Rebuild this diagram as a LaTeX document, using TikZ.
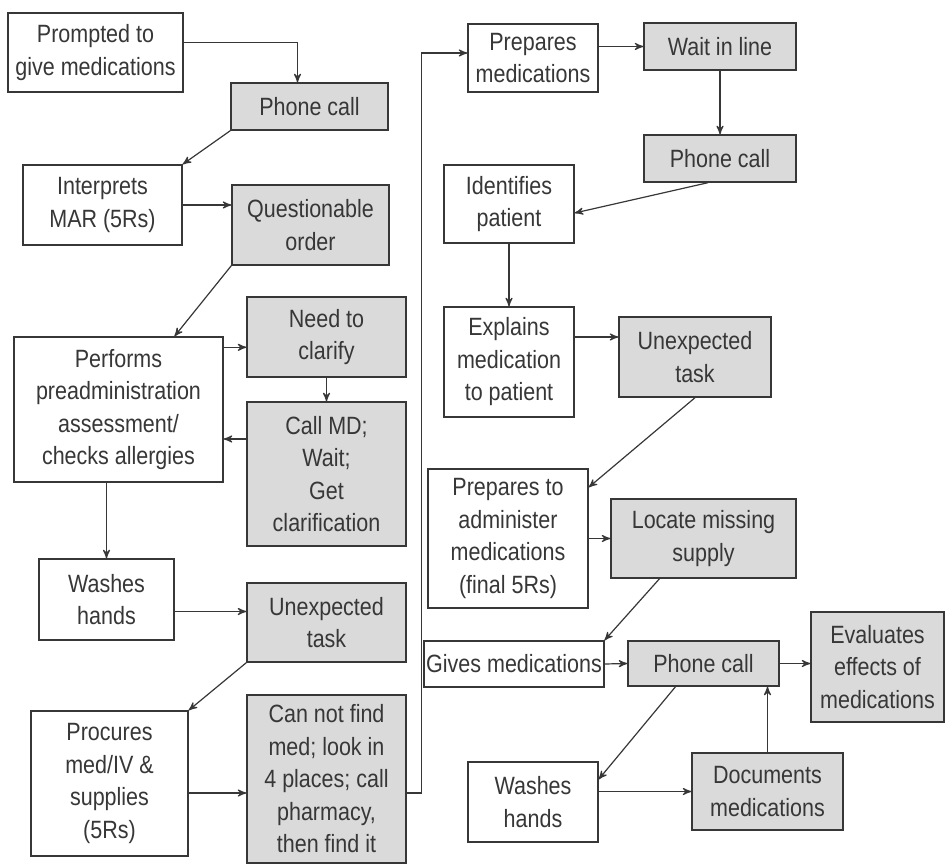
\documentclass[tikz,border=0pt]{standalone}
\usepackage{fontspec}
\setmainfont{Liberation Sans}[FakeStretch=0.86]
\usetikzlibrary{arrows,shapes}

\definecolor{boxgray}{RGB}{218,218,218}
\definecolor{inkgray}{RGB}{55,55,55}

\tikzset{
  stepbase/.style={draw=inkgray,line width=0.7pt,text=inkgray,align=center,
    inner xsep=1pt,inner ysep=1pt,
    font=\fontsize{12.5pt}{16.25pt}\selectfont},
  act/.style={stepbase,fill=white},
  hold/.style={stepbase,fill=boxgray},
  sz/.style 2 args={minimum width=#1*0.5pt,minimum height=#2*0.5pt}
}

\begin{document}
\begin{tikzpicture}[x=0.5pt,y=-0.5pt,->,>=stealth',semithick,draw=inkgray]
            \useasboundingbox (0,0) rectangle (946,865);
            % left column
            \node[act,sz={175}{79}](Prompt)at(95.5,52.5){Prompted to\\give medications};
            \node[hold,sz={157}{47}](CallA)at(309.5,106.5){Phone call};
            \node[act,sz={159}{80}](Interp)at(102.5,205){Interprets\\MAR (5Rs)};
            \node[hold,sz={157}{80}](Quest)at(310.5,225){Questionable\\order};
            \node[act,sz={209}{145}](Assess)at(118.5,409.5){Performs\\preadministration\\assessment/\\checks allergies};
            \node[hold,sz={159}{80}](Clarify)at(326.5,337){Need to\\clarify};
            \node[hold,sz={159}{144}](CallMD)at(326.5,474){Call MD;\\Wait;\\Get\\clarification};
            \node[act,sz={135}{81}](WashA)at(106.5,599.5){Washes\\hands};
            \node[hold,sz={159}{79}](TaskA)at(326.5,622.5){Unexpected\\task};
            \node[act,sz={157}{145}](Procure)at(109.5,783.5){Procures\\med/IV \&\\supplies\\(5Rs)};
            \node[hold,sz={159}{168}](NotFind)at(326.5,779){Can not find\\med; look in\\4 places; call\\pharmacy,\\then find it};
            % right column
            \node[act,sz={130}{68}](PrepMed)at(533,58){Prepares\\medications};
            \node[hold,sz={152}{47}](Wait)at(720,46.5){Wait in line};
            \node[hold,sz={152}{47}](CallB)at(720,158.5){Phone call};
            \node[act,sz={130}{78}](Ident)at(509,204){Identifies\\patient};
            \node[act,sz={130}{110}](Explain)at(509,362){Explains\\medication\\to patient};
            \node[hold,sz={152}{80}](TaskB)at(695,357){Unexpected\\task};
            \node[act,sz={160}{139}](PrepAdm)at(508,538.5){Prepares to\\administer\\medications\\(final 5Rs)};
            \node[hold,sz={185}{79}](Locate)at(703.5,538.5){Locate missing\\supply};
            \node[act,sz={176}{46}](Gives)at(514,664){Gives medications};
            \node[hold,sz={151}{45}](CallC)at(703.5,663.5){Phone call};
            \node[hold,sz={133}{110}](Eval)at(877.5,667){Evaluates\\effects of\\medications};
            \node[act,sz={130}{80}](WashB)at(533,802){Washes\\hands};
            \node[hold,sz={151}{77}](Docs)at(767.5,791.5){Documents\\medications};
            % connectors
            \draw ([yshift=5pt]Prompt.east) -| ([xshift=-6pt]CallA.north);
            \path (CallA.south west) edge (Interp.north east)
            (Quest.south west) edge ([xshift=28pt]Assess.north)
            (Clarify.south) edge (CallMD.north)
            (TaskA.south west) edge (Procure.north east)
            (Wait.south) edge (CallB.north)
            ([xshift=-6pt]CallB.south) edge ([yshift=-4.5pt]Ident.east)
            (Ident.south) edge (Explain.north)
            (TaskB.south) edge ([yshift=-9.5pt]PrepAdm.north east)
            ([xshift=-22pt]Locate.south) edge (Gives.north east)
            (Gives.east) edge (CallC.west)
            ([xshift=-14pt]CallC.south) edge ([yshift=-9pt]WashB.north east);
            \draw (Interp.east) -- (Interp.east -| Quest.west);
            \draw ([yshift=-5.5pt]Assess.north east) -- ([yshift=-5.5pt]Assess.north east -| Clarify.west);
            \draw ([yshift=17.5pt]CallMD.west) -- ([yshift=17.5pt]CallMD.west -| Assess.east);
            \draw (WashA.north |- Assess.south) -- (WashA.north);
            \draw ([yshift=-6pt]WashA.east) -- ([yshift=-6pt]WashA.east -| TaskA.west);
            \draw ([yshift=-4.75pt]Procure.east) -- ([yshift=-4.75pt]Procure.east -| NotFind.west);
            \draw ([yshift=-7pt]NotFind.east) -- ++(15,0) |- ([yshift=2.5pt]PrepMed.west);
            \draw (PrepMed.east |- Wait.west) -- (Wait.west);
            \draw ([yshift=12.5pt]Explain.east) -- ([yshift=12.5pt]Explain.east -| TaskB.west);
            \draw (PrepAdm.east) -- (PrepAdm.east -| Locate.west);
            \draw (CallC.east) -- (CallC.east -| Eval.west);
            \draw (WashB.east |- Docs.west) -- (Docs.west);
            \draw (Docs.north) -- (Docs.north |- CallC.south);
        \end{tikzpicture}
\end{document}
